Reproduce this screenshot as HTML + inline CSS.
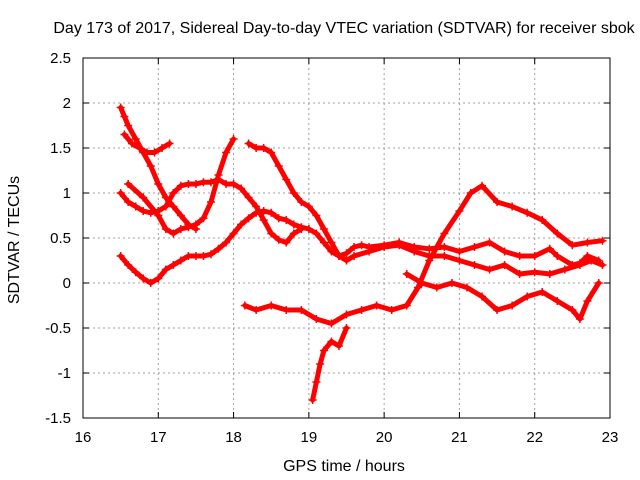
<!DOCTYPE html>
<html><head><meta charset="utf-8"><style>
body{margin:0;background:#fff}
svg{display:block;font-family:"Liberation Sans",sans-serif}
</style></head><body>
<svg id="chart" width="640" height="480" viewBox="0 0 640 480">
<text x="344" y="33" font-size="16" text-anchor="middle">Day 173 of 2017, Sidereal Day-to-day VTEC variation (SDTVAR) for receiver sbok</text>
<text x="344" y="471" font-size="16" text-anchor="middle">GPS time / hours</text>
<text transform="translate(19,240) rotate(-90)" font-size="16" text-anchor="middle">SDTVAR / TECUs</text>
<g id="grid"></g><g id="marks"></g><g id="axes"></g>
</svg>
<script>
const xTicks=[16,17,18,19,20,21,22,23];
const yTicks=[-1.5,-1,-0.5,0,0.5,1,1.5,2,2.5];
const yTickLabels=["-1.5","-1","-0.5","0","0.5","1","1.5","2","2.5"];
const s1t=[16.5,16.55,16.6,16.7,16.8,16.9,17.0,17.1,17.2,17.3,17.4,17.5];
const s1v=[1.95,1.85,1.75,1.6,1.45,1.3,1.1,0.95,0.85,0.75,0.65,0.6];
const s2t=[16.55,16.65,16.75,16.85,16.95,17.05,17.15];
const s2v=[1.65,1.55,1.5,1.45,1.45,1.5,1.55];
const s3t=[16.5,16.6,16.7,16.8,16.9,17.0,17.1,17.2,17.3,17.4,17.5,17.6,17.7,17.8,17.9,18.0,18.1,18.2,18.3,18.4,18.5,18.6,18.7,18.8,18.9,19.0,19.1,19.2,19.3,19.4,19.5,19.6,19.7,19.8,20.0,20.2,20.4,20.6,20.8,21.0,21.2,21.4,21.6,21.8,22.0,22.2,22.3,22.5,22.6,22.7,22.85];
const s3v=[0.3,0.2,0.12,0.05,0.0,0.05,0.15,0.2,0.25,0.3,0.3,0.3,0.32,0.38,0.45,0.55,0.65,0.72,0.78,0.8,0.78,0.72,0.7,0.65,0.62,0.6,0.55,0.45,0.35,0.3,0.33,0.4,0.42,0.4,0.42,0.45,0.4,0.38,0.4,0.35,0.4,0.45,0.35,0.3,0.3,0.38,0.3,0.2,0.22,0.3,0.25];
const s4t=[16.5,16.6,16.7,16.8,16.9,17.0,17.1,17.2,17.3,17.4,17.5,17.6,17.7,17.8,17.9,18.0,18.1,18.2,18.3,18.4,18.5,18.6,18.7,18.8,18.9];
const s4v=[1.0,0.9,0.85,0.8,0.78,0.8,0.85,1.0,1.08,1.1,1.1,1.12,1.12,1.15,1.1,1.1,1.05,0.95,0.85,0.7,0.55,0.48,0.45,0.55,0.6];
const s5t=[16.6,16.8,17.0,17.1,17.2,17.3,17.4,17.5,17.6,17.7,17.8,17.9,18.0];
const s5v=[1.1,0.95,0.75,0.6,0.55,0.6,0.62,0.65,0.72,0.9,1.2,1.45,1.6];
const s6t=[18.2,18.3,18.4,18.5,18.6,18.7,18.8,18.9,19.0,19.1,19.2,19.3,19.4,19.5,19.6,19.8,20.0,20.2,20.4,20.6,20.8,21.0,21.2,21.4,21.6,21.8,22.0,22.2,22.4,22.6,22.75,22.9];
const s6v=[1.55,1.5,1.5,1.45,1.3,1.15,1.0,0.9,0.85,0.75,0.6,0.45,0.3,0.25,0.3,0.35,0.4,0.42,0.35,0.3,0.3,0.25,0.2,0.15,0.2,0.1,0.12,0.1,0.15,0.2,0.25,0.2];
const s7t=[18.15,18.3,18.5,18.7,18.9,19.1,19.3,19.5,19.7,19.9,20.1,20.3,20.45,20.6,20.8,21.0,21.15,21.3,21.5,21.7,21.9,22.1,22.3,22.5,22.7,22.9];
const s7v=[-0.25,-0.3,-0.25,-0.3,-0.3,-0.4,-0.45,-0.35,-0.3,-0.25,-0.3,-0.25,-0.05,0.25,0.55,0.8,1.0,1.08,0.9,0.85,0.78,0.7,0.55,0.42,0.45,0.47];
const s8t=[20.3,20.5,20.7,20.9,21.1,21.3,21.5,21.7,21.9,22.1,22.3,22.5,22.6,22.7,22.85];
const s8v=[0.1,0.0,-0.05,0.0,-0.05,-0.15,-0.3,-0.25,-0.15,-0.1,-0.2,-0.3,-0.4,-0.2,0.0];
const s9t=[19.05,19.1,19.15,19.2,19.3,19.4,19.5];
const s9v=[-1.3,-1.1,-0.9,-0.75,-0.65,-0.7,-0.5];
const series=[[s1t,s1v],[s2t,s2v],[s3t,s3v],[s4t,s4v],[s5t,s5v],[s6t,s6v],[s7t,s7v],[s8t,s8v],[s9t,s9v]];
const L=83,R=610,T=58,B=418;
const xs=h=>L+(h-16)/7*(R-L);
const ys=v=>T+(2.5-v)/4*(B-T);
const NS="http://www.w3.org/2000/svg";
function mk(tag,attrs,parent){const e=document.createElementNS(NS,tag);for(const k in attrs)e.setAttribute(k,attrs[k]);parent.appendChild(e);return e;}
const grid=document.getElementById('grid'),axes=document.getElementById('axes'),marks=document.getElementById('marks');
xTicks.forEach((t,i)=>{const x=xs(t);
 if(i>0&&i<xTicks.length-1){const g=mk('line',{x1:x,x2:x,y1:T,y2:B,stroke:'#a0a0a0','stroke-dasharray':'2,3'},grid);
 
 }
 mk('line',{x1:x,x2:x,y1:B,y2:B-6,stroke:'#000'},axes);mk('line',{x1:x,x2:x,y1:T,y2:T+6,stroke:'#000'},axes);
 const tx=mk('text',{x:x,y:442,'font-size':15,'text-anchor':'middle'},axes);tx.textContent=t;
 
 });
yTicks.forEach((t,i)=>{const y=ys(t);
 if(i>0&&i<yTicks.length-1){const g=mk('line',{x1:L,x2:R,y1:y,y2:y,stroke:'#a0a0a0','stroke-dasharray':'2,3'},grid);
 
 }
 mk('line',{x1:L,x2:L+6,y1:y,y2:y,stroke:'#000'},axes);mk('line',{x1:R,x2:R-6,y1:y,y2:y,stroke:'#000'},axes);
 const tx=mk('text',{x:71,y:y+5,'font-size':15,'text-anchor':'end'},axes);tx.textContent=yTickLabels[i];
 
 });
const box=mk('rect',{x:L,y:T,width:R-L,height:B-T,fill:'none',stroke:'#000'},axes);


series.forEach(([ts,vs],si)=>{
 const g=mk('g',{},marks);
 
 
 mk('polyline',{points:ts.map((t,i)=>xs(t)+','+ys(vs[i])).join(' '),fill:'none',stroke:'#f00','stroke-width':5,'stroke-linejoin':'round','stroke-linecap':'round'},g);
 ts.forEach((t,i)=>{const x=xs(t),y=ys(vs[i]);
  const p=mk('path',{d:`M${x-4},${y}h8M${x},${y-4}v8`,stroke:'#f00','stroke-width':1.5},g);
  
  });
});
</script>
</body></html>
